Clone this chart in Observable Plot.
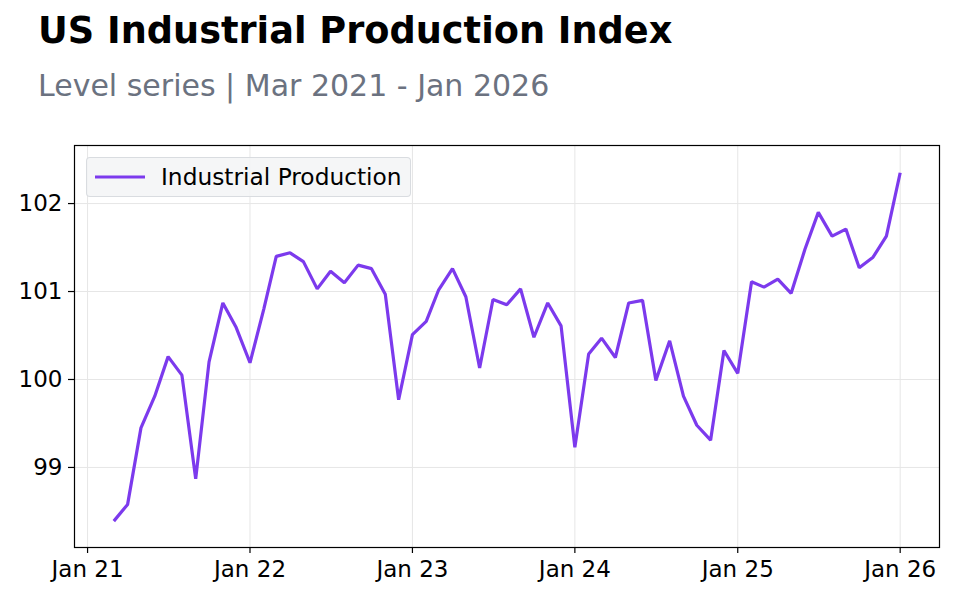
<!DOCTYPE html>
<html>
<head>
<meta charset="utf-8">
<script src="https://cdn.jsdelivr.net/npm/d3@7"></script>
<script src="https://cdn.jsdelivr.net/npm/@observablehq/plot@0.6"></script>
<style>
  html, body { margin: 0; padding: 0; background: #fff; }
  #wrap { position: relative; width: 960px; height: 600px; overflow: hidden; font-family: "DejaVu Sans", sans-serif; }
  #title { position: absolute; left: 38px; top: 12px; font-size: 36.7px; line-height: 37px; font-weight: bold; color: #000; white-space: nowrap; }
  #subtitle { position: absolute; left: 38px; top: 71px; font-size: 30px; line-height: 30px; color: #6b7280; white-space: nowrap; }
  #chart { position: absolute; left: 0; top: 125px; }
  #legend { position: absolute; left: 86px; top: 157px; width: 325px; height: 40px; box-sizing: border-box;
            background: rgba(243,244,246,0.85); border: 1px solid rgba(214,217,222,0.9); border-radius: 4px; }
  #legend svg { position: absolute; left: 7px; top: 16px; }
  #legend span { position: absolute; left: 74px; top: 7px; font-size: 23.3px; line-height: 23px; color: #000; white-space: nowrap; }
</style>
</head>
<body>
<div id="wrap">
  <div id="title">US Industrial Production Index</div>
  <div id="subtitle">Level series | Mar 2021 - Jan 2026</div>
  <div id="chart"></div>
  <div id="legend"><svg width="52" height="6"><line x1="1" y1="3" x2="51" y2="3" stroke="#7c3aed" stroke-width="3.2"></line></svg><span>Industrial Production</span></div>
</div>
<script>
const seriesName = "Industrial Production";
const startMonth = "2021-03";
const values = [
  98.39, 98.58, 99.45, 99.81, 100.26, 100.05, 98.87, 100.20, 100.87, 100.59,
  100.19, 100.80, 101.40, 101.44, 101.34, 101.03, 101.23, 101.10, 101.30, 101.26,
  100.97, 99.77, 100.51, 100.66, 101.02, 101.26, 100.94, 100.13, 100.91, 100.85,
  101.03, 100.48, 100.87, 100.61, 99.23, 100.29, 100.47, 100.25, 100.87, 100.90,
  99.99, 100.44, 99.81, 99.48, 99.31, 100.33, 100.07, 101.11, 101.05, 101.14,
  100.98, 101.48, 101.90, 101.63, 101.71, 101.27, 101.39, 101.63, 102.35
];
const yTicks = [99, 100, 101, 102];
const xTickYears = [2021, 2022, 2023, 2024, 2025, 2026];

const start = new Date(startMonth + "-01T00:00:00Z");
const data = values.map((v, i) => ({ date: d3.utcMonth.offset(start, i), value: v }));
const xTicks = xTickYears.map(y => new Date(Date.UTC(y, 0, 1)));

const t0 = +data[0].date, t1 = +data[data.length - 1].date;
const pad = (t1 - t0) * 0.05;
const xDomain = [new Date(t0 - pad), new Date(t1 + pad)];

const chart = Plot.plot({
  width: 960,
  height: 475,
  marginTop: 20,
  marginBottom: 53,
  marginLeft: 74,
  marginRight: 21,
  style: { fontFamily: "DejaVu Sans, sans-serif", fontSize: "23px", color: "#000", background: "transparent" },
  x: { type: "utc", domain: xDomain },
  y: { domain: [98.09, 102.66] },
  marks: [
    Plot.gridX(xTicks, { stroke: "#e6e6e6", strokeOpacity: 1, strokeWidth: 1 }),
    Plot.gridY(yTicks, { stroke: "#e6e6e6", strokeOpacity: 1, strokeWidth: 1 }),
    Plot.line(data, { x: "date", y: "value", stroke: "#7c3aed", strokeWidth: 3.2, strokeLinejoin: "miter", strokeLinecap: "butt" }),
    Plot.frame({ stroke: "#000", strokeWidth: 1.2 }),
    Plot.axisX({ ticks: xTicks, tickFormat: d3.utcFormat("%b %y"), tickSize: 6, tickPadding: 7, label: null, fontSize: 23, stroke: "#000", strokeWidth: 1.2 }),
    Plot.axisY({ ticks: yTicks, tickFormat: d => String(d), tickSize: 6, tickPadding: 6, label: null, fontSize: 23, stroke: "#000", strokeWidth: 1.2 })
  ]
});
document.getElementById("chart").appendChild(chart);
</script>
</body>
</html>
